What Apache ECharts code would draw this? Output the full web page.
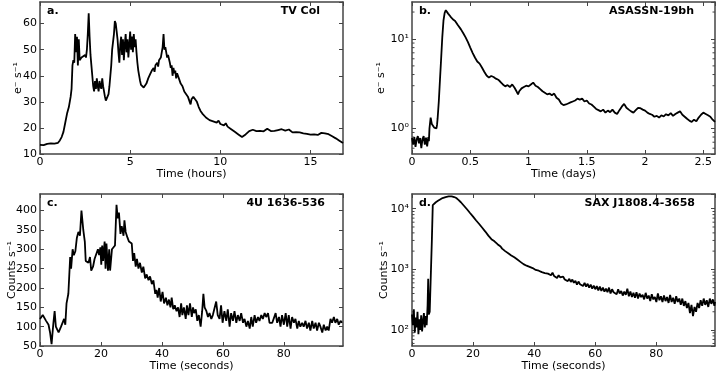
<!DOCTYPE html>
<html>
<head>
<meta charset="utf-8">
<script src="https://cdn.jsdelivr.net/npm/echarts@6/dist/echarts.min.js"></script>
<style>
  html, body { margin: 0; padding: 0; background: #fff; }
  #chart { width: 718px; height: 375px; }
</style>
</head>
<body>
<div id="chart"></div>
<script>
  // panel a: TV Col, [hours, e- s-1]
  var tvCol = [[0,13.5],[0.1,13.8],[0.2,13.4],[0.3,14.0],[0.4,13.9],[0.5,14.4],[0.6,14.1],[0.7,14.3],[0.8,14.0],[0.9,14.2],
    [1.0,14.3],[1.1,15.2],[1.2,16.5],[1.3,18.5],[1.4,22],[1.5,25.5],[1.6,28],[1.7,32],[1.75,35],[1.8,44],[1.85,46],[1.9,45],
    [1.95,56],[2.0,49],[2.05,55],[2.1,44],[2.15,54],[2.2,46],[2.3,47],[2.4,46.5],[2.5,48],[2.55,47],[2.6,50],[2.65,56],[2.7,64],
    [2.75,55],[2.8,48],[2.85,44],[2.9,40],[2.95,36],[3.0,34],[3.05,38],[3.1,35],[3.15,39],[3.2,36],[3.25,34],[3.3,38],[3.35,36],
    [3.4,35],[3.45,39],[3.5,36],[3.55,34],[3.6,32],[3.65,30.5],[3.7,30],[3.75,31],[3.8,33],[3.85,36],[3.9,40],[3.95,44],[4.0,50],
    [4.05,53],[4.1,56],[4.15,61],[4.2,60],[4.25,57],[4.3,54],[4.35,49],[4.4,45],[4.45,52],[4.5,55],[4.55,48],[4.6,54],[4.65,46],
    [4.7,52],[4.75,56],[4.8,49],[4.85,54],[4.9,47],[4.95,52],[5.0,57],[5.05,50],[5.1,55],[5.15,49],[5.2,56],[5.25,51],[5.3,54],
    [5.35,49],[5.4,45],[5.45,42],[5.5,40],[5.55,38],[5.6,36.5],[5.7,37],[5.75,35.5],[5.8,36],[5.85,35],[5.9,37],[6.0,39],[6.1,40.5],
    [6.2,42],[6.3,43],[6.35,41.5],[6.4,44],[6.5,45],[6.55,43.5],[6.6,46],[6.7,47],[6.75,49],[6.8,51],[6.85,56],[6.9,50],[6.95,51],
    [7.0,49],[7.05,47],[7.1,48],[7.2,45],[7.25,43],[7.3,44],[7.35,40],[7.4,43],[7.45,41],[7.5,42],[7.55,39],[7.6,41],[7.7,39],
    [7.8,37],[7.9,36],[8.0,34],[8.1,33.5],[8.2,32],[8.3,30],[8.35,29],[8.4,31],[8.5,32],[8.6,31.5],[8.7,30],[8.8,28],[8.9,26.5],
    [9.0,25.5],[9.1,25],[9.2,24],[9.3,24.5],[9.4,23],[9.5,23.5],[9.6,22.5],[9.7,23],[9.8,22],[9.9,22.8],[10.0,21.5],[10.1,22],
    [10.2,21],[10.3,21.8],[10.4,20.5],[10.5,20],[10.6,19.5],[10.7,19],[10.8,18.5],[10.9,18],[11.0,17.5],[11.1,17.2],[11.2,16.5],
    [11.3,17.2],[11.4,17.5],[11.5,18.2],[11.6,18.8],[11.7,18.4],[11.8,19.3],[11.9,19.6],[12.0,18.8],[12.1,18.5],[12.2,18.9],
    [12.3,19.3],[12.4,18.7],[12.5,19.4],[12.6,19.7],[12.7,19.1],[12.8,18.8],[12.9,19.4],[13.0,18.9],[13.1,18.6],[13.2,19.2],
    [13.3,19.0],[13.4,19.5],[13.5,19.7],[13.6,19.0],[13.7,18.7],[13.8,19.4],[13.9,18.8],[14.0,18.3],[14.1,18.9],[14.2,18.4],
    [14.3,17.8],[14.4,18.3],[14.5,17.6],[14.6,17.9],[14.7,17.3],[14.8,17.7],[14.9,17.1],[15.0,17.4],[15.1,17.0],[15.2,17.5],
    [15.3,17.8],[15.4,17.3],[15.5,17.9],[15.6,18.1],[15.7,17.6],[15.8,17.9],[15.9,17.4],[16.0,17.6],[16.1,17.1],[16.2,16.8],
    [16.3,16.4],[16.4,16.0],[16.5,15.6],[16.6,15.1],[16.7,14.6],[16.8,14.2]]

  // panel b: ASASSN-19bh, [days, e- s-1]
  var asassn = [[0,0.78],[0.01,0.66],[0.02,0.8],[0.03,0.62],[0.04,0.75],[0.05,0.82],[0.06,0.68],[0.07,0.78],[0.08,0.6],[0.09,0.76],
    [0.1,0.82],[0.11,0.66],[0.12,0.79],[0.13,0.63],[0.14,0.8],[0.145,0.72],[0.15,1.0],[0.16,1.32],[0.17,1.12],[0.18,1.08],
    [0.19,1.02],[0.2,1.05],[0.21,1.0],[0.215,1.1],[0.22,1.3],[0.23,2.0],[0.24,3.5],[0.25,6.0],[0.26,10.5],[0.27,16],[0.28,19.5],
    [0.29,21],[0.3,20.5],[0.31,19.2],[0.32,18.5],[0.33,17.8],[0.34,17.3],[0.35,16.6],[0.36,16.2],[0.37,15.9],[0.38,15.3],
    [0.39,14.5],[0.4,14.0],[0.42,12.8],[0.44,11.6],[0.46,10.4],[0.48,9.2],[0.5,8.0],[0.52,7.0],[0.54,6.2],[0.56,5.6],[0.58,5.3],
    [0.6,4.8],[0.62,4.3],[0.64,3.9],[0.66,3.7],[0.68,3.85],[0.7,3.75],[0.72,3.6],[0.74,3.5],[0.76,3.3],[0.78,3.1],[0.8,2.95],
    [0.82,3.05],[0.84,2.9],[0.86,3.1],[0.87,3.15],[0.88,2.85],[0.9,2.55],[0.91,2.4],[0.92,2.6],[0.94,2.8],[0.96,2.9],[0.98,3.0],
    [1.0,2.95],[1.02,3.1],[1.04,3.25],[1.06,3.0],[1.08,2.9],[1.1,2.75],[1.12,2.6],[1.14,2.5],[1.16,2.4],[1.18,2.45],[1.2,2.35],
    [1.22,2.45],[1.24,2.2],[1.26,2.1],[1.28,1.9],[1.3,1.82],[1.32,1.85],[1.34,1.9],[1.36,1.95],[1.38,2.0],[1.4,2.05],[1.42,2.15],
    [1.44,2.1],[1.46,2.15],[1.48,2.0],[1.5,2.05],[1.52,1.9],[1.54,1.85],[1.56,1.75],[1.58,1.65],[1.6,1.6],[1.62,1.55],[1.64,1.62],
    [1.66,1.5],[1.68,1.58],[1.7,1.52],[1.72,1.62],[1.74,1.5],[1.76,1.45],[1.78,1.6],[1.8,1.75],[1.82,1.88],[1.84,1.7],[1.86,1.62],
    [1.88,1.55],[1.9,1.5],[1.92,1.6],[1.94,1.7],[1.96,1.68],[1.98,1.62],[2.0,1.58],[2.02,1.5],[2.04,1.45],[2.06,1.42],[2.08,1.35],
    [2.1,1.38],[2.12,1.32],[2.14,1.4],[2.16,1.36],[2.18,1.44],[2.2,1.4],[2.22,1.48],[2.24,1.38],[2.26,1.45],[2.28,1.5],[2.3,1.55],
    [2.32,1.42],[2.34,1.35],[2.36,1.28],[2.38,1.22],[2.4,1.18],[2.42,1.25],[2.44,1.2],[2.46,1.32],[2.48,1.42],[2.5,1.5],
    [2.52,1.45],[2.54,1.4],[2.56,1.35],[2.58,1.25],[2.6,1.18]]

  // panel c: 4U 1636-536, [seconds, counts s-1]
  var fourU = [[0,120],[0.9,130],[2.0,115],[2.8,105],[3.3,85],[3.8,55],[4.4,110],[4.8,140],[5.2,100],[6.1,85],[6.9,100],[7.4,95],
    [7.9,120],[8.3,105],[8.7,160],[9.3,185],[9.6,190],[9.9,280],[10.2,250],[10.7,300],[11.1,285],[11.6,295],[12.1,330],[12.6,345],
    [13.1,335],[13.6,400],[14.2,350],[14.7,320],[15.0,270],[15.6,275],[15.9,265],[16.4,280],[16.8,245],[17.4,255],[17.9,275],
    [18.5,280],[19.0,300],[19.4,285],[19.8,305],[20.1,260],[20.4,310],[20.7,270],[21.2,320],[21.5,250],[21.8,315],[22.3,245],
    [22.7,300],[23.0,245],[23.6,300],[24.1,295],[24.6,310],[25.1,415],[25.5,380],[25.9,395],[26.4,340],[26.8,360],[27.4,335],
    [27.7,375],[28.1,345],[28.7,330],[29.2,320],[29.7,325],[30.1,315],[30.5,270],[30.9,290],[31.4,255],[31.8,275],[32.3,250],
    [32.8,265],[33.4,240],[33.9,255],[34.5,225],[35.0,235],[35.6,220],[36.1,230],[36.7,210],[37.2,220],[37.8,185],[38.2,195],
    [38.6,175],[39.1,200],[39.6,165],[40.2,190],[40.7,160],[41.3,175],[41.8,155],[42.3,170],[42.8,150],[43.2,175],[43.7,145],
    [44.2,155],[44.8,140],[45.3,150],[45.8,125],[46.3,160],[46.7,130],[47.2,150],[47.8,120],[48.2,155],[48.7,130],[49.2,160],
    [49.8,125],[50.2,150],[50.6,135],[51.1,145],[51.6,115],[52.1,130],[52.7,100],[53.2,140],[53.6,185],[54.0,150],[54.6,140],
    [55.1,125],[55.6,135],[56.2,120],[56.7,130],[57.2,125],[57.8,165],[58.3,130],[58.9,120],[59.4,155],[59.9,110],[60.5,140],
    [61.1,115],[61.6,145],[62.2,100],[62.7,135],[63.3,115],[63.8,140],[64.4,110],[64.9,130],[65.5,115],[66.0,135],[66.6,110],
    [67.1,120],[67.7,100],[68.2,115],[68.8,95],[69.3,125],[69.8,100],[70.4,130],[70.9,110],[71.5,125],[72.0,115],[72.6,130],
    [73.1,120],[73.7,135],[74.2,125],[74.8,135],[75.3,110],[76.2,110],[76.8,108],[77.3,135],[77.8,110],[78.4,125],[78.9,100],
    [79.4,130],[80.0,105],[80.6,135],[81.1,100],[81.6,130],[82.2,95],[82.7,125],[83.3,110],[83.8,120],[84.4,95],[84.9,115],
    [85.4,100],[86.0,110],[86.5,100],[87.1,115],[87.6,95],[88.2,110],[88.7,90],[89.3,115],[89.8,95],[90.4,110],[90.9,90],
    [91.5,110],[92.0,100],[92.6,85],[93.1,105],[93.7,90],[94.2,100],[94.7,90],[95.3,120],[95.8,110],[96.4,125],[96.9,110],
    [97.5,120],[98.0,105],[98.6,115],[99.1,110]]

  // panel d: SAX J1808.4-3658, [seconds, counts s-1]
  var saxJ = [[0,180],[0.3,120],[0.6,220],[0.9,90],[1.2,160],[1.5,110],[1.8,200],[2.1,85],[2.4,150],[2.7,100],[3.0,175],[3.3,95],
    [3.6,140],[3.9,190],[4.2,110],[4.5,170],[4.8,120],[5.1,250],[5.3,700],[5.5,180],[5.8,200],[6.2,210],[6.5,3000],[6.8,11500],
    [7.2,12300],[7.8,12800],[8.5,13500],[9.2,14200],[10,15000],[11,15600],[12,16000],[13,16000],[13.8,15600],[14.5,15000],
    [15.2,14000],[16,12800],[17,11200],[18,9800],[18.5,9200],[19,8500],[19.5,8000],[20,7400],[20.5,6900],[21,6400],[21.5,6000],
    [22,5600],[22.5,5200],[23,4850],[23.5,4500],[24,4200],[24.5,3900],[25,3600],[25.5,3350],[26,3150],[26.5,3050],[27,2900],
    [27.5,2750],[28,2600],[28.5,2450],[29,2380],[29.5,2200],[30,2150],[30.5,2000],[31,1950],[31.5,1850],[32,1780],[32.5,1700],
    [33,1620],[33.5,1580],[34,1480],[34.5,1450],[35,1400],[35.5,1330],[36,1300],[36.5,1220],[37,1250],[37.5,1150],[38,1200],
    [38.5,1100],[39,1130],[39.5,1050],[40,1080],[40.5,980],[41,1040],[41.5,950],[42,1000],[42.5,900],[43,960],[43.5,870],
    [44,930],[44.5,850],[45,900],[45.5,800],[46,880],[46.5,780],[47,820],[47.5,720],[48,800],[48.5,740],[49,700],[49.5,760],
    [50,680],[50.5,720],[51,640],[51.5,700],[52,620],[52.5,680],[53,600],[53.5,650],[54,560],[54.5,630],[55,570],[55.5,610],
    [56,530],[56.5,600],[57,520],[57.5,580],[58,500],[58.5,560],[59,480],[59.5,540],[60,470],[60.5,530],[61,450],[61.5,520],
    [62,440],[62.5,500],[63,430],[63.5,480],[64,420],[64.5,500],[65,400],[65.5,470],[66,420],[66.5,450],[67,390],[67.5,470],
    [68,400],[68.5,440],[69,370],[69.5,430],[70,380],[70.5,480],[71,360],[71.5,430],[72,350],[72.5,410],[73,340],[73.5,420],
    [74,330],[74.5,400],[75,350],[75.5,380],[76,320],[76.5,410],[77,330],[77.5,370],[78,300],[78.5,390],[79,320],[79.5,350],
    [80,290],[80.5,400],[81,310],[81.5,360],[82,290],[82.5,370],[83,300],[83.5,350],[84,280],[84.5,380],[85,290],[85.5,340],
    [86,270],[86.5,360],[87,290],[87.5,330],[88,260],[88.5,330],[89,250],[89.5,300],[90,230],[90.5,280],[91,190],[91.5,260],
    [92,170],[92.5,240],[93,200],[93.5,280],[94,230],[94.5,310],[95,250],[95.5,330],[96,260],[96.5,310],[97,240],[97.5,330],
    [98,270],[98.5,320],[99,250],[99.2,290]]

  var panelLabels = ['a.', 'b.', 'c.', 'd.']
  var panelNames = ['TV Col', 'ASASSN-19bh', '4U 1636-536', 'SAX J1808.4-3658']
  var xNames = ['Time (hours)', 'Time (days)', 'Time (seconds)', 'Time (seconds)']
  var yNames = ['e\u207B s\u207B\u00B9', 'e\u207B s\u207B\u00B9', 'Counts s\u207B\u00B9', 'Counts s\u207B\u00B9']
  var bMinorTicks = [0.6, 0.7, 0.8, 0.9, 2, 3, 4, 5, 6, 7, 8, 9, 20]
  var dMinorTicks = [60, 70, 80, 90, 200, 300, 400, 500, 600, 700, 800, 900, 2000, 3000, 4000, 5000, 6000, 7000, 8000, 9000]

  var font = 'DejaVu Sans'
  var frame = '#444'
  var sup = { '0': '\u2070', '1': '\u00B9', '2': '\u00B2', '3': '\u00B3', '4': '\u2074' }

  var grids = [
    { left: 40, top: 2, width: 303, height: 152 },
    { left: 412, top: 2, width: 303, height: 152 },
    { left: 40, top: 194, width: 303, height: 152 },
    { left: 412, top: 194, width: 303, height: 152 }
  ]
  var xRanges = [[0, 16.8, 5], [0, 2.6, 0.5], [0, 99.4, 20], [0, 99.2, 20]]
  var yRanges = [[10, 68.3, 10], [0.517, 25.9], [50, 443, 50], [54.5, 17500]]
  var yGaps = [16, 25, 22, 22]

  var logLabel = function (v) {
    var e = Math.log10(v)
    if (Math.abs(e - Math.round(e)) > 1e-6) return ''
    return '10' + sup[String(Math.round(e))]
  }

  var xAxes = []
  var yAxes = []
  for (var i = 0; i < 4; i++) {
    var xr = xRanges[i]
    var yr = yRanges[i]
    var isLog = i === 1 || i === 3
    var lineCfg = { show: true, onZero: false, lineStyle: { color: frame, width: 1.5 } }
    var tickCfg = { show: true, inside: true, length: 4, lineStyle: { color: frame, width: 1 } }
    var labelCfg = { fontFamily: font, fontSize: 11, color: '#000', margin: 3, showMaxLabel: false }
    xAxes.push({
      type: 'value', gridIndex: i, min: xr[0], max: xr[1], interval: xr[2], position: 'bottom',
      axisLine: lineCfg, axisTick: tickCfg, splitLine: { show: false },
      axisLabel: labelCfg,
      name: xNames[i], nameLocation: 'middle', nameGap: 15, nameMoveOverlap: false,
      nameTextStyle: { fontFamily: font, fontSize: 11, color: '#000' }
    })
    xAxes.push({
      type: 'value', gridIndex: i, min: xr[0], max: xr[1], interval: xr[2], position: 'top',
      axisLine: lineCfg, axisTick: tickCfg, splitLine: { show: false }, axisLabel: { show: false }
    })
    var yBase = isLog
      ? { type: 'log', logBase: 10, min: yr[0], max: yr[1] }
      : { type: 'value', min: yr[0], max: yr[1], interval: yr[2] }
    yAxes.push(Object.assign({}, yBase, {
      gridIndex: i, position: 'left',
      axisLine: lineCfg, axisTick: tickCfg, splitLine: { show: false },
      axisLabel: Object.assign({}, labelCfg, { showMinLabel: !isLog, formatter: isLog ? logLabel : null }),
      name: yNames[i], nameLocation: 'middle', nameGap: yGaps[i], nameMoveOverlap: false,
      nameTextStyle: { fontFamily: font, fontSize: 11, color: '#000' }
    }))
    yAxes.push(Object.assign({}, yBase, {
      gridIndex: i, position: 'right',
      axisLine: lineCfg, axisTick: tickCfg, splitLine: { show: false }, axisLabel: { show: false }
    }))
  }

  var minorTickSeries = function (gridIdx, ticks) {
    var xr = xRanges[gridIdx]
    return {
      type: 'custom', xAxisIndex: gridIdx * 2, yAxisIndex: gridIdx * 2, silent: true, clip: false,
      data: ticks.map(function (v) { return [xr[0], v] }),
      encode: { x: 0, y: 1 },
      renderItem: function (params, api) {
        var l = api.coord([xr[0], api.value(1)])
        var r = api.coord([xr[1], api.value(1)])
        var st = { stroke: frame, lineWidth: 1 }
        return {
          type: 'group',
          children: [
            { type: 'line', shape: { x1: l[0], y1: l[1], x2: l[0] + 2.5, y2: l[1] }, style: st },
            { type: 'line', shape: { x1: r[0], y1: r[1], x2: r[0] - 2.5, y2: r[1] }, style: st }
          ]
        }
      }
    }
  }

  var datasets = [tvCol, asassn, fourU, saxJ]
  var series = datasets.map(function (d, i) {
    return {
      type: 'line', xAxisIndex: i * 2, yAxisIndex: i * 2, data: d,
      showSymbol: false, animation: false,
      lineStyle: { color: '#000', width: 1.8 }
    }
  })
  series.push(minorTickSeries(1, bMinorTicks))
  series.push(minorTickSeries(3, dMinorTicks))

  var titleStyle = { fontFamily: font, fontSize: 11, fontWeight: 'bold', color: '#000' }
  var labelPos = [[47, 6], [419, 6], [47, 198], [419, 198]]
  var namePos = [[398, 6], [24, 6], [393, 198], [23, 198]]
  var titles = []
  for (var k = 0; k < 4; k++) {
    titles.push({ text: panelLabels[k], left: labelPos[k][0], top: labelPos[k][1], padding: 0, textStyle: titleStyle })
    titles.push({ text: panelNames[k], right: namePos[k][0], top: namePos[k][1], padding: 0, textStyle: titleStyle })
  }

  var chart = echarts.init(document.getElementById('chart'))
  chart.setOption({
    backgroundColor: '#fff',
    animation: false,
    title: titles,
    grid: grids,
    xAxis: xAxes,
    yAxis: yAxes,
    series: series
  })
</script>
</body>
</html>
